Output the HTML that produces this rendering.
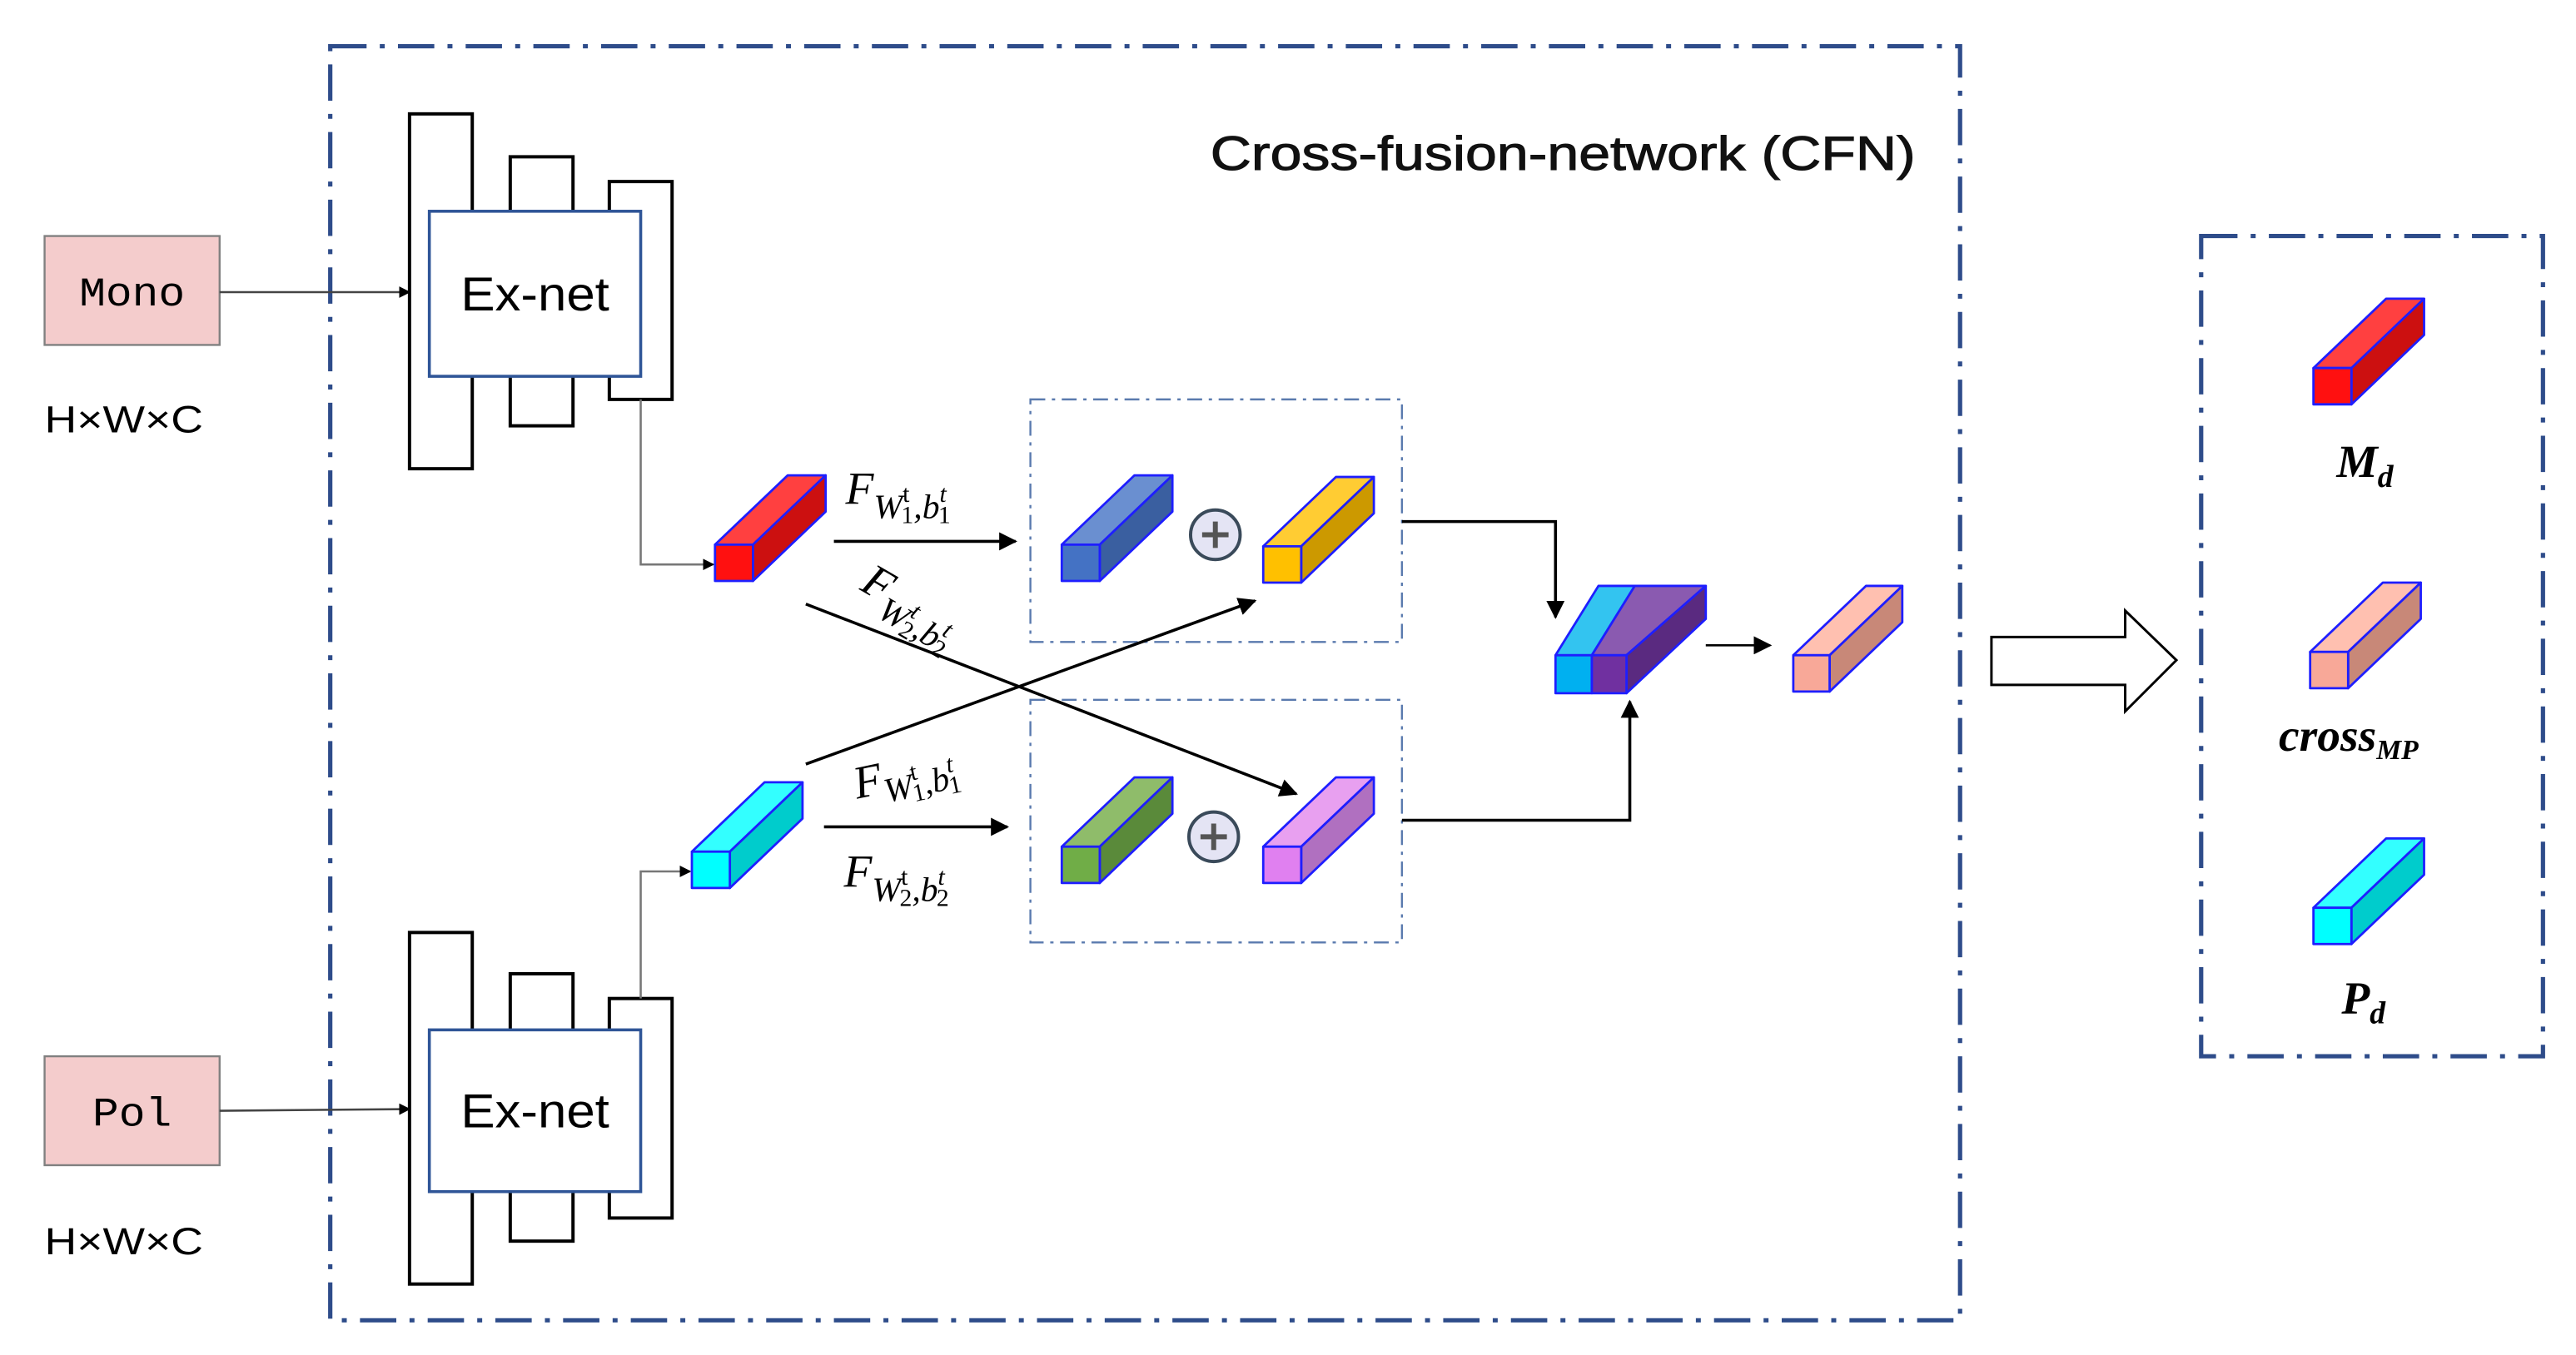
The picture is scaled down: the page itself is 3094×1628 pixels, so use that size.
<!DOCTYPE html>
<html><head><meta charset="utf-8"><style>
html,body{margin:0;padding:0;background:#fff;}
svg{display:block;}
text{font-family:"Liberation Sans",sans-serif;}
.m{font-family:"Liberation Serif",serif;font-style:italic;}
</style></head><body>
<svg width="3094" height="1628" viewBox="0 0 1560 821" preserveAspectRatio="none" xmlns="http://www.w3.org/2000/svg">
<defs>
<marker id="ah" viewBox="0 0 10 10" refX="9" refY="5" markerWidth="7" markerHeight="7" orient="auto" markerUnits="userSpaceOnUse"><path d="M0,0 L10,5 L0,10 z" fill="#000"/></marker>
<marker id="ah2" viewBox="0 0 10 10" refX="9" refY="5" markerWidth="11" markerHeight="11" orient="auto" markerUnits="userSpaceOnUse"><path d="M0,0 L10,5 L0,10 z" fill="#000"/></marker>
</defs>
<rect x="200" y="28" width="987" height="772" fill="none" stroke="#2E4C8A" stroke-width="2.6" stroke-dasharray="22,8,3,8"/>
<rect x="1333" y="143" width="207" height="497" fill="none" stroke="#2E4C8A" stroke-width="2.6" stroke-dasharray="22,8,3,8"/>
<text x="733" y="103" font-size="29" fill="#111" stroke="#111" stroke-width="0.5" textLength="427" lengthAdjust="spacingAndGlyphs">Cross-fusion-network (CFN)</text>

<rect x="27" y="143" width="106" height="66" fill="#F4CCCC" stroke="#808080" stroke-width="1.2"/>
<text x="80" y="185" font-size="25" text-anchor="middle" style="font-family:'Liberation Mono',monospace" textLength="64" lengthAdjust="spacingAndGlyphs">Mono</text>
<text x="27" y="262" font-size="23" textLength="96" lengthAdjust="spacingAndGlyphs">H×W×C</text>
<rect x="27" y="640" width="106" height="66" fill="#F4CCCC" stroke="#808080" stroke-width="1.2"/>
<text x="80" y="682" font-size="25" text-anchor="middle" style="font-family:'Liberation Mono',monospace" textLength="48" lengthAdjust="spacingAndGlyphs">Pol</text>
<text x="27" y="760" font-size="23" textLength="96" lengthAdjust="spacingAndGlyphs">H×W×C</text>

<line x1="133" y1="177" x2="248" y2="177" stroke="#444" stroke-width="1.3" marker-end="url(#ah)"/>
<line x1="133" y1="673" x2="248" y2="672" stroke="#444" stroke-width="1.3" marker-end="url(#ah)"/>

<g fill="#fff" stroke="#000" stroke-width="2">
<rect x="248" y="69" width="38" height="215"/>
<rect x="309" y="95" width="38" height="163"/>
<rect x="369" y="110" width="38" height="132"/>
<rect x="248" y="565" width="38" height="213"/>
<rect x="309" y="590" width="38" height="162"/>
<rect x="369" y="605" width="38" height="133"/>
</g>
<rect x="260" y="128" width="128" height="100" fill="#fff" stroke="#2F5597" stroke-width="1.8"/>
<text x="324" y="188" font-size="29" text-anchor="middle" textLength="90" lengthAdjust="spacingAndGlyphs">Ex-net</text>
<rect x="260" y="624" width="128" height="98" fill="#fff" stroke="#2F5597" stroke-width="1.8"/>
<text x="324" y="683" font-size="29" text-anchor="middle" textLength="90" lengthAdjust="spacingAndGlyphs">Ex-net</text>

<polyline points="388,242 388,342 432,342" fill="none" stroke="#777" stroke-width="1.3" marker-end="url(#ah)"/>
<polyline points="388,605 388,528 418,528" fill="none" stroke="#777" stroke-width="1.3" marker-end="url(#ah)"/>

<rect x="624" y="242" width="225" height="147" fill="none" stroke="#5A7AAE" stroke-width="1.2" stroke-dasharray="9,4,2,4"/>
<rect x="624" y="424" width="225" height="147" fill="none" stroke="#5A7AAE" stroke-width="1.2" stroke-dasharray="9,4,2,4"/>

<g stroke="#1E1EFF" stroke-width="1.4" stroke-linejoin="round">
<polygon points="433,330 477,288 500,288 456,330" fill="#FF4040"/><polygon points="456,330 500,288 500,310 456,352" fill="#CC1010"/><rect x="433" y="330" width="23" height="22" fill="#FF1010"/>
<polygon points="643,330 687,288 710,288 666,330" fill="#6A8FD0"/><polygon points="666,330 710,288 710,310 666,352" fill="#3A5FA0"/><rect x="643" y="330" width="23" height="22" fill="#4472C4"/>
<polygon points="765,331 809,289 832,289 788,331" fill="#FFCC33"/><polygon points="788,331 832,289 832,311 788,353" fill="#CC9900"/><rect x="765" y="331" width="23" height="22" fill="#FFC000"/>
<polygon points="419,516 463,474 486,474 442,516" fill="#33FFFF"/><polygon points="442,516 486,474 486,496 442,538" fill="#00CCCC"/><rect x="419" y="516" width="23" height="22" fill="#00FFFF"/>
<polygon points="643,513 687,471 710,471 666,513" fill="#8FBC6A"/><polygon points="666,513 710,471 710,493 666,535" fill="#5A8A3A"/><rect x="643" y="513" width="23" height="22" fill="#70AD47"/>
<polygon points="765,513 809,471 832,471 788,513" fill="#E8A0F0"/><polygon points="788,513 832,471 832,493 788,535" fill="#B070C0"/><rect x="765" y="513" width="23" height="22" fill="#E080F0"/>
<polygon points="942,397 968,355 990,355 964,397" fill="#33C4F0"/><polygon points="964,397 990,355 1033,355 985,397" fill="#8A5AB0"/>
<polygon points="985,397 1033,355 1033,375 985,420" fill="#5A2A80"/>
<rect x="942" y="397" width="22" height="23" fill="#00B0F0"/><rect x="964" y="397" width="21" height="23" fill="#7030A0"/>
<polygon points="1086,397 1130,355 1152,355 1108,397" fill="#FFC0B0"/><polygon points="1108,397 1152,355 1152,377 1108,419" fill="#C88878"/><rect x="1086" y="397" width="22" height="22" fill="#F8A898"/>
<polygon points="1401,223 1445,181 1468,181 1424,223" fill="#FF4040"/><polygon points="1424,223 1468,181 1468,203 1424,245" fill="#CC1010"/><rect x="1401" y="223" width="23" height="22" fill="#FF1010"/>
<polygon points="1399,395 1443,353 1466,353 1422,395" fill="#FFC0B0"/><polygon points="1422,395 1466,353 1466,375 1422,417" fill="#C88878"/><rect x="1399" y="395" width="23" height="22" fill="#F8A898"/>
<polygon points="1401,550 1445,508 1468,508 1424,550" fill="#33FFFF"/><polygon points="1424,550 1468,508 1468,530 1424,572" fill="#00CCCC"/><rect x="1401" y="550" width="23" height="22" fill="#00FFFF"/>
</g>

<g stroke="#3A4A5A" stroke-width="2" fill="#E4E4F4">
<ellipse cx="736" cy="324" rx="15" ry="15"/>
<ellipse cx="735" cy="507" rx="15" ry="15"/>
</g>
<g stroke="#555" stroke-width="3">
<line x1="728" y1="324" x2="744" y2="324"/><line x1="736" y1="316" x2="736" y2="332"/>
<line x1="727" y1="507" x2="743" y2="507"/><line x1="735" y1="499" x2="735" y2="515"/>
</g>

<g stroke="#000" stroke-width="1.8" fill="none">
<line x1="505" y1="328" x2="615" y2="328" marker-end="url(#ah2)"/>
<line x1="499" y1="501" x2="610" y2="501" marker-end="url(#ah2)"/>
<line x1="488" y1="366" x2="785" y2="481" marker-end="url(#ah2)"/>
<line x1="488" y1="463" x2="760" y2="364" marker-end="url(#ah2)"/>
<polyline points="849,316 942,316 942,374" marker-end="url(#ah2)"/>
<polyline points="849,497 987,497 987,425" marker-end="url(#ah2)"/>
<line x1="1033" y1="391" x2="1072" y2="391" stroke-width="1.3" marker-end="url(#ah2)"/>
</g>
<polygon points="1206,386 1287,386 1287,370 1318,400 1287,431 1287,415 1206,415" fill="#fff" stroke="#000" stroke-width="1.5"/>

<g fill="#000">
<text x="512" y="305" font-size="28" class="m">F<tspan font-size="21" dy="9">W</tspan><tspan font-size="15" dy="-10" font-style="normal">t</tspan><tspan font-size="15" dx="-5" dy="13" font-style="normal">1</tspan><tspan font-size="21" dy="-3">,b</tspan><tspan font-size="15" dy="-10">t</tspan><tspan font-size="15" dx="-5" dy="13" font-style="normal">1</tspan></text>
<text transform="translate(520,357) rotate(30)" font-size="28" class="m">F<tspan font-size="21" dy="9">W</tspan><tspan font-size="15" dy="-10">t</tspan><tspan font-size="15" dx="-5" dy="13" font-style="normal">2</tspan><tspan font-size="21" dy="-3">,b</tspan><tspan font-size="15" dy="-10">t</tspan><tspan font-size="15" dx="-5" dy="13" font-style="normal">2</tspan></text>
<text transform="translate(519,484) rotate(-12)" font-size="28" class="m">F<tspan font-size="21" dy="6">W</tspan><tspan font-size="15" dy="-10" font-style="normal">t</tspan><tspan font-size="15" dx="-5" dy="13" font-style="normal">1</tspan><tspan font-size="21" dy="-3">,b</tspan><tspan font-size="15" dy="-10">t</tspan><tspan font-size="15" dx="-5" dy="13" font-style="normal">1</tspan></text>
<text x="511" y="537" font-size="28" class="m">F<tspan font-size="21" dy="9">W</tspan><tspan font-size="15" dy="-10" font-style="normal">t</tspan><tspan font-size="15" dx="-5" dy="13" font-style="normal">2</tspan><tspan font-size="21" dy="-3">,b</tspan><tspan font-size="15" dy="-10">t</tspan><tspan font-size="15" dx="-5" dy="13" font-style="normal">2</tspan></text>
<text x="1415" y="289" font-size="28" class="m" font-weight="bold">M<tspan font-size="19" dy="6">d</tspan></text>
<text x="1380" y="455" font-size="28" class="m" font-weight="bold">cross<tspan font-size="17" dy="5">MP</tspan></text>
<text x="1418" y="614" font-size="28" class="m" font-weight="bold">P<tspan font-size="19" dy="6">d</tspan></text>
</g>
</svg>
</body></html>
